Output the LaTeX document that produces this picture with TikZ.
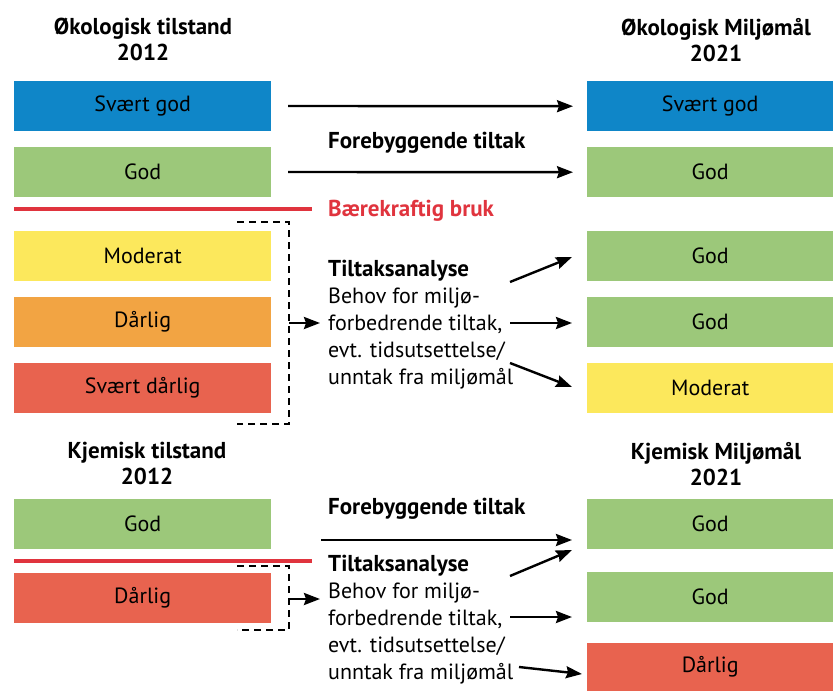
\documentclass[tikz,border=0pt]{standalone}
\usepackage{fontspec}
\setmainfont{PT Sans}
\usepackage{xcolor}
\usepackage{tikz}
\usetikzlibrary{arrows.meta,positioning,calc}
\definecolor{svgodblue}{HTML}{0F86C8}
\definecolor{godgreen}{HTML}{9CC87A}
\definecolor{modyellow}{HTML}{FCE85C}
\definecolor{darlorange}{HTML}{F2A443}
\definecolor{svdarlred}{HTML}{E8634F}
\definecolor{limitred}{HTML}{E0343E}

\begin{document}
\begin{tikzpicture}[
  x=1pt, y=-1pt,
  font=\fontsize{22}{27}\selectfont,
  statebox/.style={anchor=north west, minimum width=257pt, minimum height=50pt, inner sep=0pt},
  goalbox/.style={statebox, minimum width=246pt},
  boldtxt/.style={inner sep=0pt, font=\fontsize{23}{26}\selectfont\bfseries},
  head/.style={boldtxt, anchor=north, align=center},
  analyse/.style={anchor=north west, align=left, inner sep=0pt},
  limit/.style={draw=limitred, line width=4.5pt},
  bracket/.style={line width=2pt, dash pattern=on 7pt off 5pt},
  arrow/.style={-{Stealth[length=16pt, width=12pt, inset=2pt]}, line width=2.4pt}
]
\useasboundingbox (0,0) rectangle (833,691);

\node[head] (h1) at (143,18) {Økologisk tilstand\\2012};
\node[head] (h2) at (716,18) {Økologisk Miljømål\\2021};

\node[statebox, fill=svgodblue] (l1) at (14,81) {Svært god};
\node[statebox, fill=godgreen] (l2) at (14,147) {God};
\node[statebox, fill=modyellow] (l3) at (14,231) {Moderat};
\node[statebox, fill=darlorange] (l4) at (14,297) {Dårlig};
\node[statebox, fill=svdarlred] (l5) at (14,363) {Svært dårlig};

\node[goalbox, fill=svgodblue] (r1) at (587,81) {Svært god};
\node[goalbox, fill=godgreen] (r2) at (587,147) {God};
\node[goalbox, fill=godgreen] (r3) at (587,231) {God};
\node[goalbox, fill=godgreen] (r4) at (587,297) {God};
\node[goalbox, fill=modyellow] (r5) at (587,363) {Moderat};

\draw[limit] (14,209) -- (312,209);
\node[boldtxt, anchor=base west, text=limitred] (bk) at (328,216) {Bærekraftig bruk};
\node[boldtxt, anchor=base west] (ft1) at (328,148) {Forebyggende tiltak};

\draw[arrow, shorten >=14pt] (288,106) -- (r1.west);
\draw[arrow, shorten >=14pt] (288,172) -- (r2.west);

\draw[bracket] (237,222) -| (289,424) -- (237,424);
\coordinate (br1) at (289,323);
\node[analyse] (ana1) at (328,260) {{\fontsize{23}{27}\selectfont\bfseries Tiltaksanalyse}\\Behov for miljø-\\forbedrende tiltak,\\evt. tidsutsettelse/\\unntak fra miljømål};
\draw[arrow, shorten >=8pt] (br1) -- (br1 -| ana1.west);

\coordinate (a1) at (510,282);
\coordinate (a2) at (510,323);
\coordinate (a3) at (510,363);
\draw[arrow] (a1) -- (572,257);
\draw[arrow] (a2) -- (572,323);
\draw[arrow] (a3) -- (572,387);

\node[head] (h3) at (147,442) {Kjemisk tilstand\\2012};
\node[head] (h4) at (716,442) {Kjemisk Miljømål\\2021};

\node[statebox, fill=godgreen] (k1) at (14,499) {God};
\node[statebox, fill=svdarlred] (k2) at (14,573) {Dårlig};

\node[goalbox, fill=godgreen] (m1) at (587,499) {God};
\node[goalbox, fill=godgreen] (m2) at (587,572) {God};
\node[goalbox, fill=svdarlred, minimum height=48pt] (m3) at (587,643) {Dårlig};

\draw[limit] (14,561) -- (312,561);
\node[boldtxt, anchor=base west] (ft2) at (328,514) {Forebyggende tiltak};
\draw[arrow] (321,540) -- (572,540);

\draw[bracket] (237,566) -| (289,630) -- (237,630);
\coordinate (br2) at (289,599);
\node[analyse] (ana2) at (328,555) {{\fontsize{23}{27}\selectfont\bfseries Tiltaksanalyse}\\Behov for miljø-\\forbedrende tiltak,\\evt. tidsutsettelse/\\unntak fra miljømål};
\draw[arrow, shorten >=8pt] (br2) -- (br2 -| ana2.west);

\coordinate (b1) at (510,576);
\coordinate (b2) at (510,617);
\coordinate (b3) at (519,667);
\draw[arrow] (b1) -- (572,550);
\draw[arrow] (b2) -- (572,617);
\draw[arrow] (b3) -- (582,674);
\end{tikzpicture}
\end{document}
